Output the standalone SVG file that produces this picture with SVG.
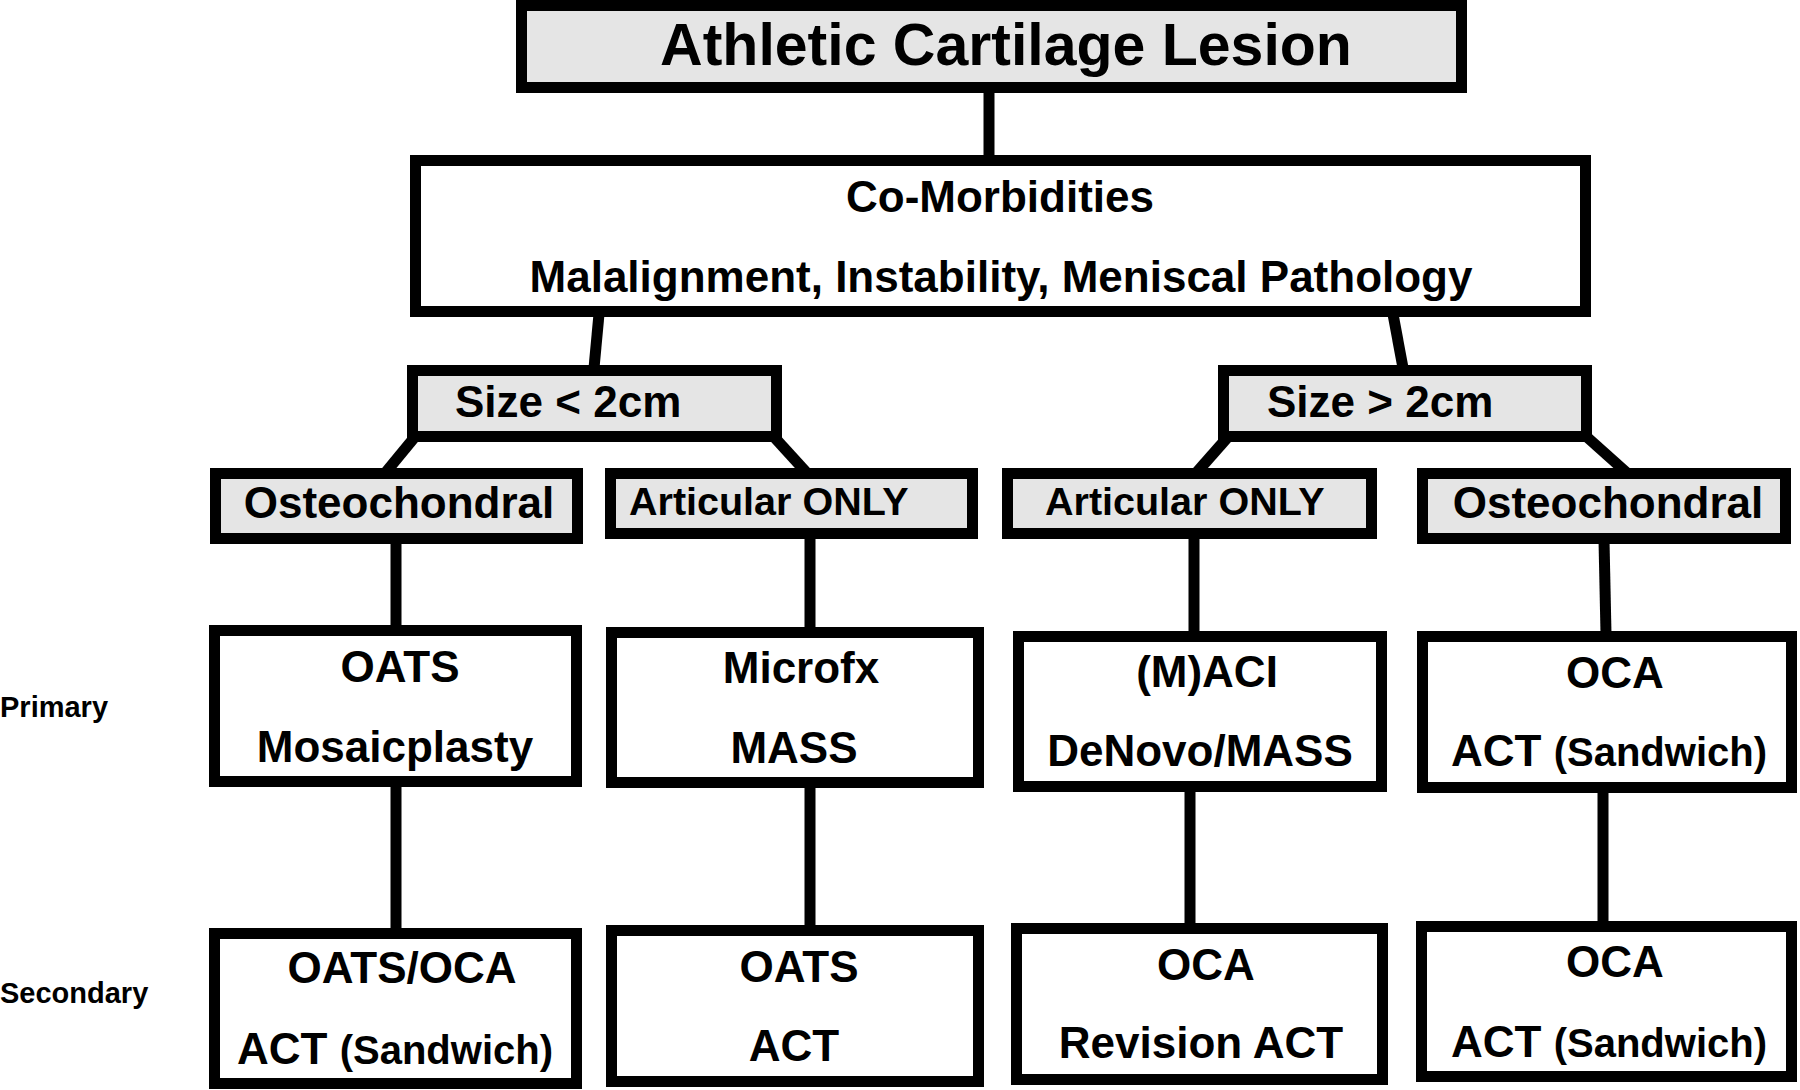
<svg xmlns="http://www.w3.org/2000/svg" width="1800" height="1090" viewBox="0 0 1800 1090">
<style>
.box{stroke:#000;stroke-width:11;fill:#fff}
.grey{fill:#e5e5e5}
.t{font-family:"Liberation Sans",Arial,sans-serif;font-weight:bold;fill:#000}
.c{text-anchor:middle}
.conn line{stroke:#000;stroke-width:11}
</style>
<rect width="1800" height="1090" fill="#fff"/>
<g class="conn">
<line x1="989" y1="90" x2="989" y2="158"/>
<line x1="599" y1="314" x2="594" y2="368"/>
<line x1="1393" y1="314" x2="1403" y2="368"/>
<line x1="414" y1="438" x2="386" y2="472"/>
<line x1="775" y1="438" x2="806" y2="472"/>
<line x1="1227" y1="438" x2="1197" y2="472"/>
<line x1="1588" y1="438" x2="1626" y2="472"/>
<line x1="396" y1="540" x2="396" y2="628"/>
<line x1="810" y1="535" x2="810" y2="630"/>
<line x1="1194" y1="535" x2="1194" y2="634"/>
<line x1="1604" y1="540" x2="1606" y2="634"/>
<line x1="396" y1="784" x2="396" y2="931"/>
<line x1="810" y1="785" x2="810" y2="928"/>
<line x1="1190" y1="789" x2="1190" y2="926"/>
<line x1="1603" y1="790" x2="1603" y2="924"/>
</g>
<g id="title"><rect class="box grey" x="521.5" y="5.5" width="940" height="82"/><text class="t c" x="1006" y="65" font-size="59">Athletic Cartilage Lesion</text></g>
<g id="comorb"><rect class="box" x="415.5" y="160.5" width="1170" height="151"/><text class="t c" x="1000" y="212" font-size="44">Co-Morbidities</text><text class="t c" x="1001" y="292" font-size="44">Malalignment, Instability, Meniscal Pathology</text></g>
<g id="size-small"><rect class="box grey" x="412.5" y="370.5" width="364" height="66"/><text class="t" x="455" y="417" font-size="44">Size &lt; 2cm</text></g>
<g id="size-large"><rect class="box grey" x="1223.5" y="370.5" width="363" height="66"/><text class="t" x="1267" y="417" font-size="44">Size &gt; 2cm</text></g>
<g id="osteo-left"><rect class="box grey" x="215.5" y="473.5" width="362" height="65"/><text class="t c" x="399" y="518" font-size="44">Osteochondral</text></g>
<g id="artic-left"><rect class="box grey" x="610.5" y="473.5" width="362" height="60"/><text class="t" x="629" y="515" font-size="39.5">Articular ONLY</text></g>
<g id="artic-right"><rect class="box grey" x="1007.5" y="473.5" width="364" height="60"/><text class="t" x="1045" y="515" font-size="39.5">Articular ONLY</text></g>
<g id="osteo-right"><rect class="box grey" x="1422.5" y="473.5" width="363" height="65"/><text class="t c" x="1608" y="518" font-size="44">Osteochondral</text></g>
<g id="p1"><rect class="box" x="214.5" y="630.5" width="362" height="151"/><text class="t c" x="400" y="682" font-size="44">OATS</text><text class="t c" x="395" y="762" font-size="44">Mosaicplasty</text></g>
<g id="p2"><rect class="box" x="611.5" y="632.5" width="367" height="150"/><text class="t c" x="801" y="683" font-size="44">Microfx</text><text class="t c" x="794" y="763" font-size="44">MASS</text></g>
<g id="p3"><rect class="box" x="1018.5" y="636.5" width="363" height="150"/><text class="t c" x="1207" y="687" font-size="44">(M)ACI</text><text class="t c" x="1200" y="766" font-size="44">DeNovo/MASS</text></g>
<g id="p4"><rect class="box" x="1422.5" y="636.5" width="369" height="151"/><text class="t c" x="1615" y="688" font-size="44">OCA</text><text class="t c" x="1609" y="766" font-size="44">ACT <tspan font-size="40">(Sandwich)</tspan></text></g>
<g id="s1"><rect class="box" x="214.5" y="933.5" width="362" height="150"/><text class="t c" x="402" y="983" font-size="44">OATS/OCA</text><text class="t c" x="395" y="1064" font-size="44">ACT <tspan font-size="40">(Sandwich)</tspan></text></g>
<g id="s2"><rect class="box" x="611.5" y="930.5" width="367" height="151"/><text class="t c" x="799" y="982" font-size="44">OATS</text><text class="t c" x="794" y="1061" font-size="44">ACT</text></g>
<g id="s3"><rect class="box" x="1016.5" y="928.5" width="366" height="151"/><text class="t c" x="1206" y="980" font-size="44">OCA</text><text class="t c" x="1201" y="1058" font-size="44">Revision ACT</text></g>
<g id="s4"><rect class="box" x="1421.5" y="926.5" width="370" height="150"/><text class="t c" x="1615" y="977" font-size="44">OCA</text><text class="t c" x="1609" y="1057" font-size="44">ACT <tspan font-size="40">(Sandwich)</tspan></text></g>
<g id="labels"><text class="t" x="0" y="717" font-size="29">Primary</text><text class="t" x="0" y="1003" font-size="29">Secondary</text></g>
</svg>
